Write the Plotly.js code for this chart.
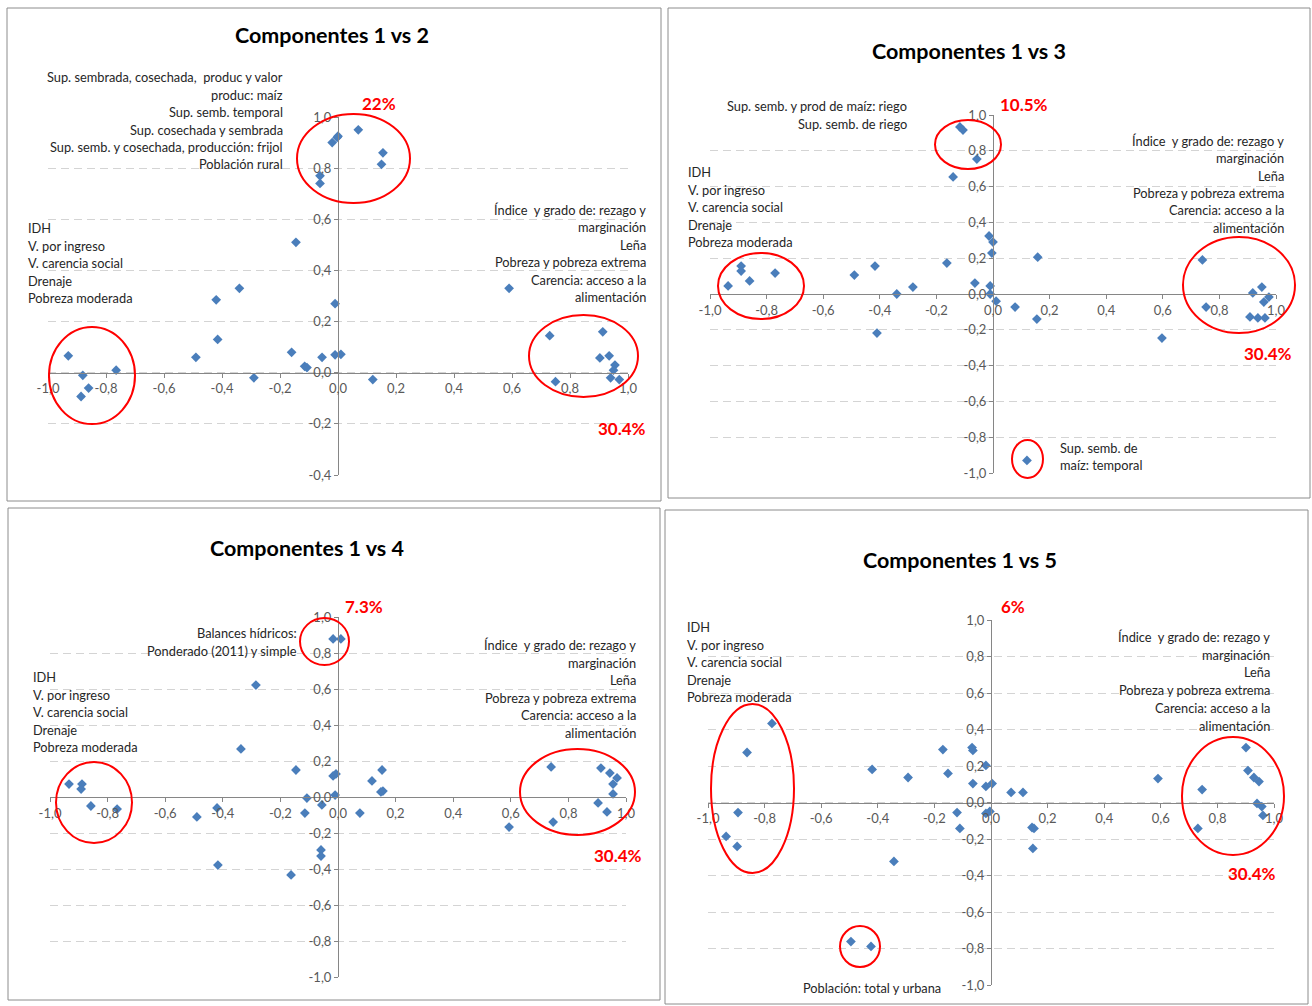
<!DOCTYPE html>
<html>
<head>
<meta charset="utf-8">
<script src="https://cdn.plot.ly/plotly-3.0.1.min.js"></script>
<style>html,body{margin:0;padding:0;background:#fff;}#chart{width:1312px;height:1006px;}</style>
</head>
<body>
<div id="chart"></div>
<script>
// ---------------- DATA ----------------
const titles = ["Componentes 1 vs 2", "Componentes 1 vs 3", "Componentes 1 vs 4", "Componentes 1 vs 5"];

// Component 1 vs 2
const c12_x = [-0.02, -0.003, 0.0, 0.07, 0.155, 0.15, -0.062, -0.062, -0.145, 0.59, -0.42, -0.34, -0.01, -0.93, -0.88, -0.886, -0.86, -0.765, -0.49, -0.415, -0.29, -0.16, -0.115, -0.107, -0.055, -0.01, 0.01, 0.12, 0.73, 0.75, 0.913, 0.903, 0.935, 0.955, 0.95, 0.94, 0.97];
const c12_y = [0.90, 0.92, 0.925, 0.95, 0.86, 0.815, 0.77, 0.74, 0.51, 0.33, 0.285, 0.33, 0.27, 0.066, -0.01, -0.093, -0.06, 0.01, 0.06, 0.13, -0.02, 0.08, 0.025, 0.02, 0.06, 0.07, 0.072, -0.027, 0.145, -0.035, 0.16, 0.058, 0.066, 0.03, 0.01, -0.02, -0.027];

// Component 1 vs 3
const c13_x = [-0.117, -0.106, -0.057, -0.141, -0.014, 0.0, -0.004, -0.163, -0.064, -0.01, -0.01, 0.011, 0.078, -0.936, -0.89, -0.89, -0.86, -0.77, -0.49, -0.417, -0.34, -0.283, -0.41, 0.158, 0.155, 0.597, 0.74, 0.753, 0.918, 0.95, 0.975, 0.957, 0.908, 0.936, 0.961, 0.12];
const c13_y = [0.933, 0.916, 0.754, 0.654, 0.324, 0.29, 0.229, 0.173, 0.061, 0.045, 0.0, -0.04, -0.073, 0.045, 0.156, 0.128, 0.073, 0.117, 0.106, 0.156, 0.0, 0.039, -0.218, 0.206, -0.14, -0.246, 0.19, -0.073, 0.006, 0.039, -0.017, -0.045, -0.128, -0.134, -0.134, -0.93];

// Component 1 vs 4
const c14_x = [-0.017, 0.01, -0.285, -0.337, -0.146, -0.017, -0.007, -0.01, -0.108, -0.115, -0.056, -0.059, -0.059, -0.163, -0.417, -0.42, -0.49, -0.934, -0.889, -0.892, -0.858, -0.767, 0.076, 0.118, 0.153, 0.149, 0.156, 0.594, 0.74, 0.747, 0.913, 0.944, 0.969, 0.955, 0.955, 0.903, 0.934];
const c14_y = [0.878, 0.878, 0.622, 0.267, 0.15, 0.117, 0.128, 0.011, -0.006, -0.089, -0.044, -0.294, -0.328, -0.433, -0.378, -0.061, -0.111, 0.072, 0.072, 0.044, -0.05, -0.067, -0.089, 0.089, 0.15, 0.028, 0.033, -0.167, 0.167, -0.139, 0.161, 0.133, 0.106, 0.072, 0.017, -0.033, -0.083];

// Component 1 vs 5
const c15_x = [-0.774, -0.862, -0.894, -0.936, -0.897, -0.42, -0.293, -0.343, -0.17, -0.152, -0.067, -0.064, -0.064, -0.018, -0.018, 0.004, -0.12, -0.11, -0.018, -0.004, -0.495, -0.424, 0.071, 0.113, 0.145, 0.152, 0.148, 0.59, 0.746, 0.731, 0.901, 0.908, 0.929, 0.947, 0.94, 0.957, 0.961];
const c15_y = [0.433, 0.274, -0.055, -0.186, -0.241, 0.181, 0.137, -0.323, 0.29, 0.159, 0.301, 0.285, 0.104, 0.203, 0.088, 0.104, -0.055, -0.142, -0.06, -0.049, -0.762, -0.789, 0.055, 0.055, -0.137, -0.142, -0.252, 0.131, 0.071, -0.142, 0.301, 0.175, 0.137, 0.115, -0.005, -0.022, -0.071];

// tick labels
const xTickVals = [-1, -0.8, -0.6, -0.4, -0.2, 0, 0.2, 0.4, 0.6, 0.8, 1];
const xTickText = ["-1,0", "-0,8", "-0,6", "-0,4", "-0,2", "0,0", "0,2", "0,4", "0,6", "0,8", "1,0"];
const yTickValsA = [-0.4, -0.2, 0, 0.2, 0.4, 0.6, 0.8, 1];
const yTickTextA = ["-0,4", "-0,2", "0,0", "0,2", "0,4", "0,6", "0,8", "1,0"];
const yTickValsB = [-1, -0.8, -0.6, -0.4, -0.2, 0, 0.2, 0.4, 0.6, 0.8, 1];
const yTickTextB = ["-1,0", "-0,8", "-0,6", "-0,4", "-0,2", "0,0", "0,2", "0,4", "0,6", "0,8", "1,0"];

// text labels
const c2TopLabels = ["Sup. sembrada, cosechada,  produc y valor", "produc: maíz", "Sup. semb. temporal", "Sup. cosechada y sembrada", "Sup. semb. y cosechada, producción: frijol", "Población rural"];
const leftLabels = ["IDH", "V. por ingreso", "V. carencia social", "Drenaje", "Pobreza moderada"];
const rightLabels = ["Índice  y grado de: rezago y", "marginación", "Leña", "Pobreza y pobreza extrema", "Carencia: acceso a la", "alimentación"];
const c3TopLabels = ["Sup. semb. y prod de maíz: riego", "Sup. semb. de riego"];
const c3BottomLabels = ["Sup. semb. de", "maíz: temporal"];
const c4TopLabels = ["Balances hídricos:", "Ponderado (2011) y simple"];
const c5BottomLabel = "Población: total y urbana";
const pct12 = ["22%", "30.4%"];
const pct13 = ["10.5%", "30.4%"];
const pct14 = ["7.3%", "30.4%"];
const pct15 = ["6%", "30.4%"];

// ---------------- LAYOUT ----------------
const W = 1312, H = 1006;
const fx = p => p / W;
const fy = p => 1 - p / H;
const FONT = "Lato, 'Open Sans', sans-serif";
const BLUE = "#4a7ebb";

const panels = [
  {xl: 48, xr: 628, yt: 117, yb: 475, ymin: -0.4, ymax: 1.0, yv: yTickValsA, yt_: yTickTextA, X: c12_x, Y: c12_y},
  {xl: 710, xr: 1276, yt: 115, yb: 473, ymin: -1, ymax: 1, yv: yTickValsB, yt_: yTickTextB, X: c13_x, Y: c13_y},
  {xl: 50, xr: 626, yt: 617, yb: 977, ymin: -1, ymax: 1, yv: yTickValsB, yt_: yTickTextB, X: c14_x, Y: c14_y},
  {xl: 708, xr: 1274, yt: 620, yb: 985, ymin: -1, ymax: 1, yv: yTickValsB, yt_: yTickTextB, X: c15_x, Y: c15_y}
];

const traces = [];
const layout = {
  width: W, height: H,
  margin: {l: 0, r: 0, t: 0, b: 0},
  paper_bgcolor: "#ffffff", plot_bgcolor: "rgba(0,0,0,0)",
  showlegend: false,
  font: {family: FONT, color: "#262626"},
  annotations: [], shapes: []
};

panels.forEach((p, i) => {
  const n = i === 0 ? "" : String(i + 1);
  const y0px = p.yt + (p.yb - p.yt) * p.ymax / (p.ymax - p.ymin);
  const x0px = (p.xl + p.xr) / 2;
  traces.push({
    type: "scatter", mode: "markers", x: p.X, y: p.Y,
    xaxis: "x" + n, yaxis: "y" + n,
    marker: {symbol: "diamond", size: 7.5, color: BLUE, line: {width: 0}},
    hoverinfo: "x+y"
  });
  layout["xaxis" + n] = {
    domain: [fx(p.xl), fx(p.xr)], range: [-1, 1], anchor: "free", position: fy(y0px),
    tickvals: xTickVals, ticktext: xTickText, showgrid: false, zeroline: false,
    showline: true, linecolor: "#868686", linewidth: 1,
    ticks: "outside", ticklen: 4, tickcolor: "#868686",
    tickfont: {family: FONT, size: 13, color: "#595959"}, fixedrange: true
  };
  layout["yaxis" + n] = {
    domain: [fy(p.yb), fy(p.yt)], range: [p.ymin, p.ymax], anchor: "free", position: fx(x0px),
    tickvals: p.yv, ticktext: p.yt_, showgrid: true, gridcolor: "#d4d4d4", griddash: "8px,5px", gridwidth: 1,
    zeroline: false, showline: true, linecolor: "#868686", linewidth: 1,
    ticks: "outside", ticklen: 4, tickcolor: "#868686",
    tickfont: {family: FONT, size: 13, color: "#595959"}, fixedrange: true
  };
});

// helpers
function txt(s, x, y, anchor, opts) {
  opts = opts || {};
  layout.annotations.push({
    xref: "paper", yref: "paper", x: fx(x), y: fy(y), xanchor: anchor, yanchor: "middle",
    text: s, showarrow: false,
    font: {family: FONT, size: opts.size || 12.8, color: opts.color || "#262626", weight: opts.weight || "normal"}
  });
}
function lines(arr, x, y0, dy, anchor) { arr.forEach((s, k) => txt(s, x, y0 + k * dy, anchor)); }
function ell(x0, y0, x1, y1) {
  layout.shapes.push({type: "circle", xref: "paper", yref: "paper", x0: fx(x0), x1: fx(x1), y0: fy(y1), y1: fy(y0),
    line: {color: "#ff0000", width: 2}});
}
function box(x0, y0, x1, y1) {
  layout.shapes.push({type: "rect", xref: "paper", yref: "paper", x0: fx(x0), x1: fx(x1), y0: fy(y1), y1: fy(y0),
    line: {color: "#8c8c8c", width: 1}, layer: "below"});
}
const red = (s, x, y) => txt(s, x, y, "center", {size: 17, color: "#ff0000", weight: "bold"});
const ttl = (s, x, y) => txt(s, x, y, "center", {size: 21.5, color: "#000000", weight: "bold"});

// borders
box(7, 8, 661, 501);
box(668, 8, 1310, 498);
box(8, 508, 660, 1000);
box(665, 510, 1308, 1004);

// Panel 1
ttl(titles[0], 332, 35);
lines(c2TopLabels, 285, 77, 17.5, "right");
lines(leftLabels, 26, 228, 17.5, "left");
lines(rightLabels, 648, 210, 17.4, "right");
red(pct12[0], 379, 103);
red(pct12[1], 622, 428);
ell(297, 114, 410, 203);
ell(49, 327, 135, 424);
ell(529, 315, 638, 397);

// Panel 2
ttl(titles[1], 969, 51);
lines(c3TopLabels, 909, 106, 17.5, "right");
lines(leftLabels, 686, 172, 17.5, "left");
lines(rightLabels, 1286, 141, 17.3, "right");
red(pct13[0], 1024, 105);
red(pct13[1], 1268, 353);
ell(935, 120, 1001, 169);
ell(718, 253, 804, 319);
ell(1183, 237, 1295, 333);
ell(1012, 440, 1043, 478);
lines(c3BottomLabels, 1058, 448, 17.5, "left");

// Panel 3
ttl(titles[2], 307, 548);
lines(c4TopLabels, 299, 633, 17.5, "right");
lines(leftLabels, 31, 677, 17.5, "left");
lines(rightLabels, 638, 645, 17.5, "right");
red(pct14[0], 364, 606);
red(pct14[1], 618, 855);
ell(300, 618, 349, 665);
ell(56, 762, 132, 843);
ell(520, 749, 635, 835);

// Panel 4
ttl(titles[3], 960, 560);
lines(leftLabels, 685, 627, 17.5, "left");
lines(rightLabels, 1272, 637, 17.7, "right");
red(pct15[0], 1013, 606);
red(pct15[1], 1252, 873);
ell(711, 704, 794, 873);
ell(840, 926, 880, 967);
ell(1182, 737, 1284, 855);
txt(c5BottomLabel, 872, 988, "center");

Plotly.newPlot("chart", traces, layout, {displayModeBar: false, staticPlot: true});
</script>
</body>
</html>
